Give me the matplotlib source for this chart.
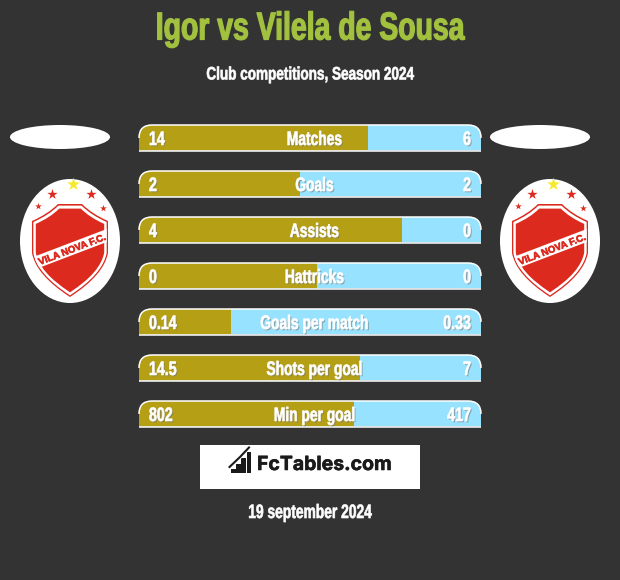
import matplotlib
matplotlib.use('Agg')
import matplotlib.pyplot as plt
import matplotlib.patheffects as pe
from matplotlib.path import Path
from matplotlib.patches import PathPatch, Ellipse, Rectangle
from matplotlib.transforms import Affine2D

# Datos de la tabla
stat_names = ['Matches', 'Goals', 'Assists', 'Hattricks', 'Goals per match', 'Shots per goal', 'Min per goal']
left_labels = ['14', '2', '4', '0', '0.14', '14.5', '802']
right_labels = ['6', '2', '0', '0', '0.33', '7', '417']
# parte izquierda de cada barra
left_share = [0.67, 0.47, 0.77, 0.52, 0.27, 0.646, 0.63]

title = 'Igor vs Vilela de Sousa'
subtitle = 'Club competitions, Season 2024'
date_text = '19 september 2024'
logo_text = 'FcTables.com'
badge_text = 'VILA NOVA F.C.'

BG = '#333333'
GOLD = '#b5a015'
BLUE = '#97e3ff'
RED = '#dc2a1f'
FONT = 'Liberation Sans'

fig = plt.figure(figsize=(6.2, 5.8), dpi=100, facecolor=BG)
ax = fig.add_axes([0, 0, 1, 1])
ax.set_xlim(0, 620)
ax.set_ylim(580, 0)
ax.axis('off')


# No hay fuente condensada instalada: se estrecha el texto al dibujarlo
class Narrow(pe.AbstractPathEffect):
    def __init__(self, x_px, k, edge=0.0, shadow=False):
        super().__init__()
        self.x_px, self.k, self.edge, self.shadow = x_px, k, edge, shadow

    def draw_path(self, renderer, gc, tpath, affine, rgbFace=None):
        t = affine + Affine2D().translate(-self.x_px, 0).scale(self.k, 1).translate(self.x_px, 0)
        if self.shadow:
            renderer.draw_path(gc, tpath, t + Affine2D().translate(1.3, -1.3), (0.45, 0.45, 0.45, 0.55))
        gc0 = renderer.new_gc()
        gc0.copy_properties(gc)
        if self.edge:
            gc0.set_linewidth(self.edge)
            gc0.set_foreground(rgbFace)
        renderer.draw_path(gc0, tpath, t, rgbFace)
        gc0.restore()


def narrow_text(x, y, s, size, k, color='white', ha='center', edge=0.45, shadow=False, zorder=5):
    ax.text(x, y, s, color=color, fontsize=size, fontweight='bold', family=FONT, ha=ha, va='baseline',
            zorder=zorder, path_effects=[Narrow(x, k, edge, shadow)])


bar_x0, bar_x1 = 139, 481
r = 13
for i, name in enumerate(stat_names):
    top = 125 + i * 46
    bottom = top + 25.5
    arc_verts = [(bar_x0, bottom), (bar_x0, top + r), (bar_x0, top), (bar_x0 + r, top), (bar_x1 - r, top),
                 (bar_x1, top), (bar_x1, top + r), (bar_x1, bottom)]
    arc_codes = [Path.MOVETO, Path.LINETO, Path.CURVE3, Path.CURVE3, Path.LINETO, Path.CURVE3, Path.CURVE3, Path.LINETO]
    fill = PathPatch(Path(arc_verts + [arc_verts[0]], arc_codes + [Path.CLOSEPOLY]), fc=BLUE, ec='none', zorder=2)
    ax.add_patch(fill)
    split = bar_x0 + left_share[i] * (bar_x1 - bar_x0)
    gold = Rectangle((bar_x0, top), split - bar_x0, bottom - top, fc=GOLD, ec='none', zorder=3)
    ax.add_patch(gold)
    gold.set_clip_path(fill)
    # filo blanco arriba y abajo
    ax.add_patch(PathPatch(Path(arc_verts[1:7], arc_codes[:1] + arc_codes[2:7]), fc='none', ec='white', lw=1.1, zorder=4))
    ax.plot([bar_x0, bar_x1], [bottom, bottom], color='white', lw=1.1, solid_capstyle='butt', zorder=4)
    base = top + 20
    narrow_text(149, base, left_labels[i], 14, 0.73, ha='left', shadow=True)
    narrow_text(314.5, base, name, 14, 0.71, shadow=True)
    narrow_text(471, base, right_labels[i], 14, 0.73, ha='right', shadow=True)

narrow_text(310, 39.5, title, 28, 0.73, color='#a2c13f', edge=0.9)
narrow_text(310, 79.5, subtitle, 13, 0.75)
narrow_text(310, 518, date_text, 14, 0.71)


def shield_path(cx, cy, s):
    # contorno del escudo: arriba plano y hombros curvos
    pts = [(-12, -46), (-22, -36), (-38, -29), (-38, 3), (-34, 25), (0, 47), (34, 25), (38, 3),
           (38, -29), (22, -36), (12, -46), (-12, -46)]
    codes = [Path.MOVETO, Path.CURVE3, Path.CURVE3, Path.LINETO, Path.CURVE3, Path.CURVE3, Path.CURVE3, Path.CURVE3,
             Path.LINETO, Path.CURVE3, Path.CURVE3, Path.CLOSEPOLY]
    return Path([(cx + x * s, cy + y * s) for x, y in pts], codes)


def draw_badge(cx, cy):
    ax.add_patch(Ellipse((cx, cy), 100, 124, fc='white', ec='none', zorder=2))
    mid = cy + 9
    ax.add_patch(PathPatch(shield_path(cx, mid, 1.0), fc=RED, ec='none', zorder=3))
    ax.add_patch(PathPatch(shield_path(cx, mid, 0.965), fc='white', ec='none', zorder=3))
    ax.add_patch(PathPatch(shield_path(cx, mid, 0.9), fc=RED, ec='none', zorder=3))
    # franja blanca con el nombre
    band = PathPatch(Path([(cx - 42, cy + 18), (cx + 42, cy - 14), (cx + 42, cy - 1), (cx - 42, cy + 31), (cx - 42, cy + 18)]),
                     fc='white', ec='none', zorder=4)
    ax.add_patch(band)
    band.set_clip_path(PathPatch(shield_path(cx, mid, 0.965), transform=ax.transData))
    ax.text(cx + 2, cy + 8.5, badge_text, color=RED, fontsize=7, fontweight='bold', family=FONT,
            rotation=21, rotation_mode='anchor', ha='center', va='center', zorder=5,
            path_effects=[pe.withStroke(linewidth=0.4, foreground=RED)])
    # estrellas
    ax.scatter([cx + 3], [cy - 57], marker='*', s=95, color='#f4ea2a', zorder=4, lw=0)
    ax.scatter([cx - 18, cx + 21], [cy - 47, cy - 47], marker='*', s=60, color=RED, zorder=4, lw=0)
    ax.scatter([cx - 32, cx + 33], [cy - 35, cy - 33], marker='*', s=26, color=RED, zorder=4, lw=0)


ax.add_patch(Ellipse((60, 137), 100, 24, fc='white', ec='none', zorder=2))
ax.add_patch(Ellipse((540, 137), 100, 24, fc='white', ec='none', zorder=2))
draw_badge(70, 241)
draw_badge(550, 241)

# Logo FcTables
ax.add_patch(Rectangle((200, 445), 220, 44, fc='white', ec='none', zorder=2))
for x, h in zip([231, 236.2, 241.4, 246.6], [4, 9, 15, 21]):
    ax.add_patch(Rectangle((x, 473 - h), 4.6, h, fc='#1a1a1a', ec='none', zorder=3))
ax.plot([229.5, 240, 249], [467, 457, 447.5], color='white', lw=2.8, zorder=3)
ax.plot([229.5, 240, 249], [467, 457, 447.5], color='#1a1a1a', lw=1.5, zorder=3)
ax.text(257, 470, logo_text, color='#1a1a1a', fontsize=14, fontweight='bold', family='Inter',
        ha='left', va='baseline', zorder=3, path_effects=[pe.withStroke(linewidth=0.4, foreground='#1a1a1a')])

fig.savefig('out.png', dpi=100, facecolor=BG)
